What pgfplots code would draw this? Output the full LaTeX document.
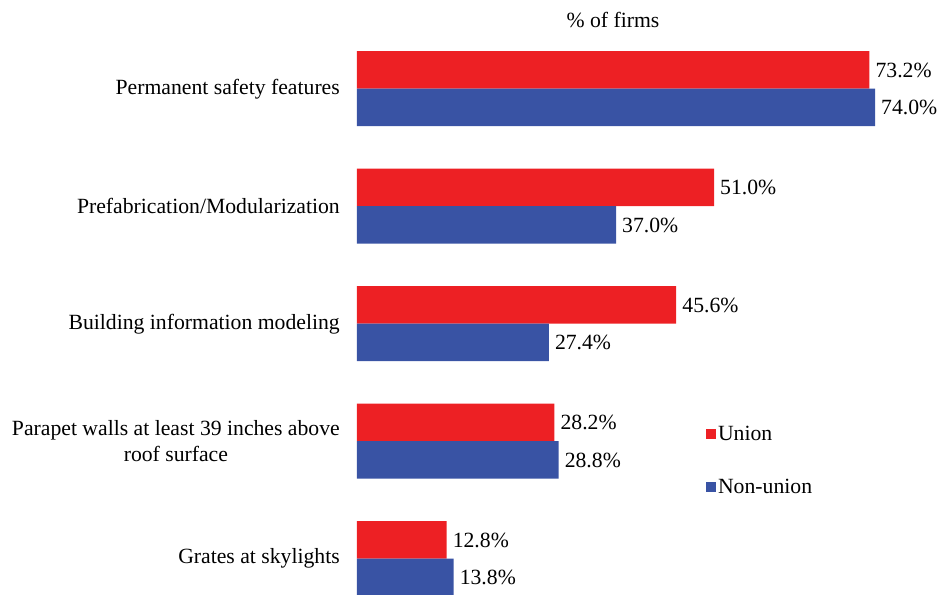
\documentclass[border=0pt]{standalone}
\usepackage{fontspec}
\setmainfont{Liberation Serif}
\usepackage{pgfplots}
\pgfplotsset{compat=1.18}
\definecolor{ured}{RGB}{237,32,36}
\definecolor{nblue}{RGB}{57,83,164}
\begin{document}
\begin{tikzpicture}
\begin{axis}[
 scale only axis, width=560pt, height=546.4pt,
 xbar, bar width=37.5pt,
 xmin=0, xmax=80, ymin=-0.3, ymax=4.35,
 axis line style={draw=none}, xtick=\empty,
 ytick={0,1,2,3,4},
 yticklabels={Grates at skylights, {Parapet walls at least 39 inches above\\roof surface}, Building information modeling, Prefabrication/Modularization, Permanent safety features},
 major tick length=0pt,
 yticklabel style={align=center, inner sep=0pt, xshift=-17pt, font=\fontsize{21.7}{26}\selectfont},
 nodes near coords={\pgfmathprintnumber[fixed,fixed zerofill,precision=1]{\pgfplotspointmeta}\%},
 nodes near coords style={font=\fontsize{21.7}{26}\selectfont, anchor=west, inner sep=0pt, xshift=6pt},
 /pgf/number format/assume math mode=true,
 legend style={at={(0.623,0.311)}, anchor=north west, draw=none, fill=none, font=\fontsize{21.7}{26}\selectfont, row sep=33pt, inner sep=0pt, cells={anchor=west}},
 legend image code/.code={\fill[#1,draw=none] (0pt,-5pt) rectangle (10pt,5pt);},
 clip=false,
]
\addplot[fill=ured, draw=none, bar shift=18.75pt] coordinates {(12.8,0) (28.2,1) (45.6,2) (51.0,3) (73.2,4)};
\addplot[fill=nblue, draw=none, bar shift=-18.75pt] coordinates {(13.8,0) (28.8,1) (27.4,2) (37.0,3) (74.0,4)};
\legend{Union, Non-union}
\coordinate (bl) at (rel axis cs:0,0);
\end{axis}
\node[font=\fontsize{21.7}{26}\selectfont] at ([shift={(256pt,574pt)}]bl) {\% of firms};
\pgfresetboundingbox
\path (bl) ++(-357pt,0pt) rectangle ++(941pt,594pt);
\end{tikzpicture}
\end{document}
